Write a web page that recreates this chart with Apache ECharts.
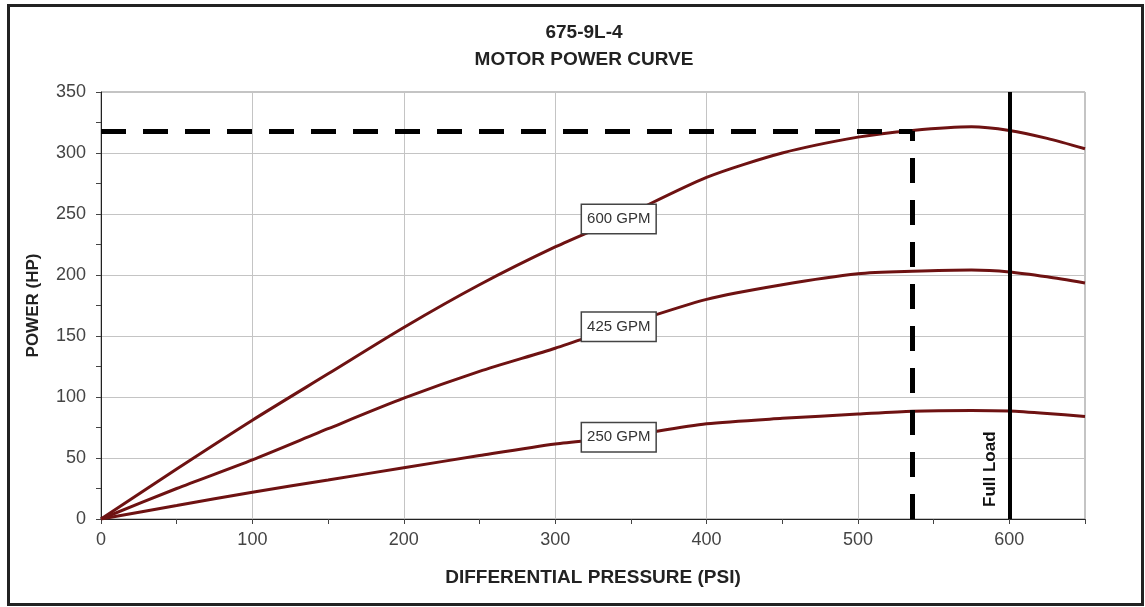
<!DOCTYPE html>
<html>
<head>
<meta charset="utf-8">
<script src="https://cdn.jsdelivr.net/npm/echarts@6/dist/echarts.min.js"></script>
<style>
html,body{margin:0;padding:0;background:#fff;}
#chart{width:1145px;height:607px;}
</style>
</head>
<body>
<div id="chart"></div>
<script>
// ---- data ----
const pressure = [0, 50, 100, 150, 200, 250, 300, 342, 400, 450, 500, 536, 575, 600, 625, 650];
const power600 = [0, 41, 81, 119, 157, 192, 223, 246, 280, 300, 313, 318.5, 321.5, 318.5, 312, 303.5];
const power425 = [0, 25, 48.5, 74, 99, 121, 140, 157.5, 180, 192, 201, 203, 204, 202.5, 198.5, 193.5];
const power250 = [0, 11, 22, 32, 42, 52, 61.5, 67, 78, 82.5, 86, 88.4, 89, 88.5, 86.5, 84];
const seriesNames = ['600 GPM', '425 GPM', '250 GPM'];
const labelPressure = 342;
const operatingPoint = [536, 318];
const fullLoadPressure = 600;
const titleLines = ['675-9L-4', 'MOTOR POWER CURVE'];
const xAxisName = 'DIFFERENTIAL PRESSURE (PSI)';
const yAxisName = 'POWER (HP)';

const FONT = "'Liberation Sans', Arial, sans-serif";
const CURVE = '#6e1212';
const chart = echarts.init(document.getElementById('chart'));

function pairs(ys) { return pressure.map((x, i) => [x, ys[i]]); }
const labelIdx = pressure.indexOf(labelPressure);

function curveSeries(name, ys, extra) {
  return Object.assign({
    type: 'line', name: name, data: pairs(ys), showSymbol: false, symbol: 'none',
    smooth: 0.25, lineStyle: { color: CURVE, width: 3 }, z: 3,
    markPoint: {
      symbol: 'rect', symbolSize: [1, 1], itemStyle: { color: 'transparent' },
      label: {
        show: true, position: 'inside', formatter: name, fontFamily: FONT, fontSize: 15,
        color: '#333', backgroundColor: '#fff', borderColor: '#444', borderWidth: 1.5,
        padding: [7, 5, 6, 5]
      },
      data: [{ coord: [labelPressure, ys[labelIdx]] }],
      z: 5
    }
  }, extra || {});
}

const option = {
  animation: false,
  backgroundColor: '#fff',
  title: [
    { text: titleLines[0], left: 579, top: 18, textAlign: 'center',
      textStyle: { fontFamily: FONT, fontSize: 19, fontWeight: 'bold', color: '#222' } },
    { text: titleLines[1], left: 579, top: 45, textAlign: 'center',
      textStyle: { fontFamily: FONT, fontSize: 19, fontWeight: 'bold', color: '#222' } }
  ],
  graphic: [{
    type: 'rect', left: 6, top: 3, shape: { width: 1134, height: 599 },
    style: { fill: 'none', stroke: '#222', lineWidth: 3 }, z: 100
  }],
  grid: { left: 101, right: 60, top: 92, bottom: 88, show: true, borderColor: '#888', borderWidth: 1 },
  xAxis: [{
    type: 'value', min: 0, max: 650, interval: 50,
    name: xAxisName, nameLocation: 'middle', nameGap: 49,
    nameTextStyle: { fontFamily: FONT, fontSize: 19, fontWeight: 'bold', color: '#222' },
    axisLine: { show: true, onZero: false, lineStyle: { color: '#222', width: 1 } },
    axisTick: { show: true, inside: false, length: 5, lineStyle: { color: '#444' } },
    axisLabel: { fontFamily: FONT, fontSize: 18, color: '#444', margin: 12,
      formatter: v => (v % 100 === 0 ? String(v) : '') },
    splitLine: { show: false }
  }, {
    type: 'value', min: 0, max: 650, interval: 100, position: 'bottom',
    axisLine: { show: false }, axisTick: { show: false }, axisLabel: { show: false },
    splitLine: { show: true, lineStyle: { color: '#c4c4c4', width: 1 } }
  }],
  yAxis: {
    type: 'value', min: 0, max: 350, interval: 50,
    name: yAxisName, nameLocation: 'middle', nameGap: 59, nameRotate: 90,
    nameTextStyle: { fontFamily: FONT, fontSize: 17, fontWeight: 'bold', color: '#222' },
    axisLine: { show: true, onZero: false, lineStyle: { color: '#222', width: 1 } },
    axisTick: { show: true, inside: false, length: 5, lineStyle: { color: '#444' } },
    minorTick: { show: true, splitNumber: 2, length: 5, lineStyle: { color: '#444' } },
    axisLabel: { fontFamily: FONT, fontSize: 18, color: '#444', margin: 15 },
    splitLine: { show: true, lineStyle: { color: '#c4c4c4', width: 1 } }
  },
  series: [
    curveSeries(seriesNames[0], power600, {
      markLine: {
        symbol: ['none', 'none'], silent: true, z: 4,
        data: [
          { xAxis: fullLoadPressure, lineStyle: { color: '#000', width: 4, type: 'solid' },
            label: { show: true, formatter: 'Full Load', position: 'insideStartTop',
              fontFamily: FONT, fontSize: 17, fontWeight: 'bold', color: '#111', distance: [12, 10] } },
          [ { coord: [0, operatingPoint[1]], lineStyle: { color: '#000', width: 5, type: [25, 17] }, label: { show: false } },
            { coord: [operatingPoint[0], operatingPoint[1]] } ],
          [ { coord: [operatingPoint[0], 0], lineStyle: { color: '#000', width: 5, type: [25, 17] }, label: { show: false } },
            { coord: [operatingPoint[0], operatingPoint[1]] } ]
        ]
      }
    }),
    curveSeries(seriesNames[1], power425),
    curveSeries(seriesNames[2], power250)
  ]
};
chart.setOption(option);
</script>
</body>
</html>
